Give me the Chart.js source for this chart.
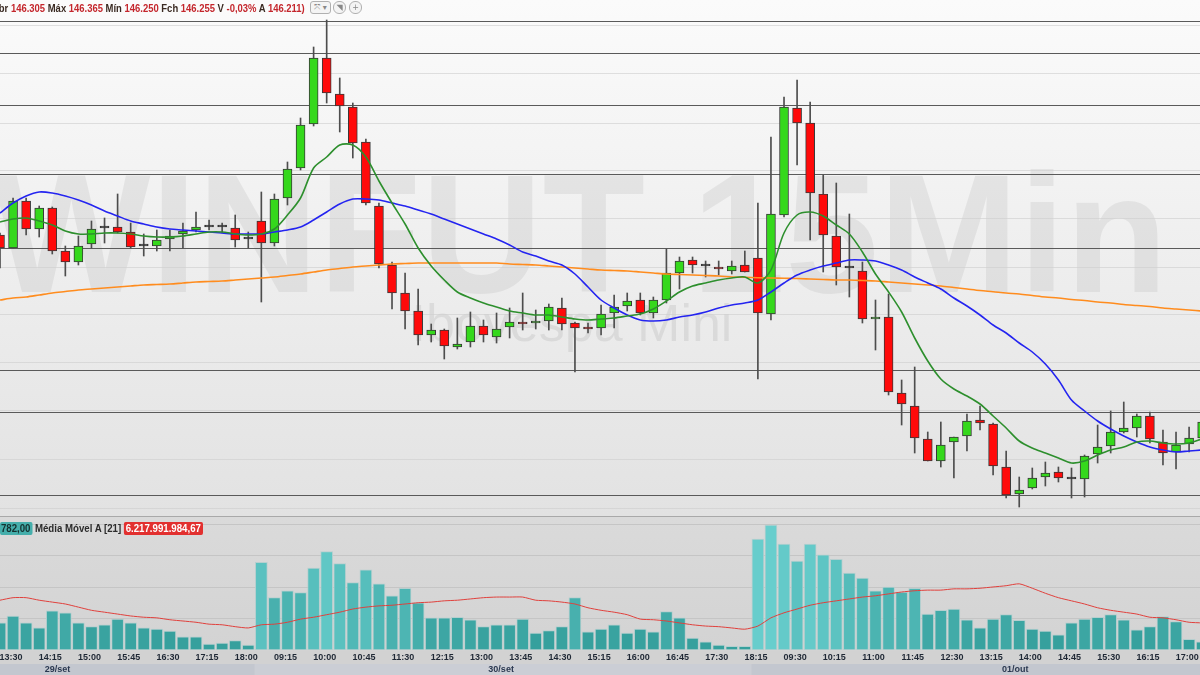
<!DOCTYPE html>
<html>
<head>
<meta charset="utf-8">
<script src="https://cdn.jsdelivr.net/npm/chart.js@4.4.0/dist/chart.umd.min.js"></script>
<style>
  html, body { margin: 0; padding: 0; width: 1200px; height: 675px; overflow: hidden; background: #e6e6e6; }
  body { position: relative; font-family: "Liberation Sans", Arial, sans-serif; }
  #pricePane { position: absolute; left: 0; top: 0; width: 1200px; height: 516px; background: linear-gradient(#fbfbfb, #e2e2e2); }
  #volPane { position: absolute; left: 0; top: 516px; width: 1200px; height: 159px; background: linear-gradient(#dadada 0, #d3d3d3 134px, #d2d2d2 134px); border-top: 1px solid #a9a9a9; box-sizing: border-box; }
  canvas { position: absolute; left: 0; }
  #price { top: 0; }
  #vol { top: 517px; }
  #hdr { position: absolute; left: -8px; top: 2px; font-size: 11px; font-weight: bold; color: #3a2a22; white-space: nowrap; transform-origin: 0 0; }
  #hdr .v { color: #c4262c; }
  .btn { position: absolute; top: 1px; height: 11px; border: 1px solid #b0b0b0; background: #f4f4f4; color: #888; font-size: 8px; line-height: 11px; text-align: center; font-family: "DejaVu Sans", sans-serif; }
  #b1 { left: 310px; width: 19px; border-radius: 3px; }
  #b2 { left: 333px; width: 11px; border-radius: 6px; }
  #b3 { left: 349px; width: 11px; border-radius: 6px; }
  #vh { position: absolute; left: 0; top: 522px; font-size: 11px; font-weight: bold; color: #2b2b2b; white-space: nowrap; transform-origin: 0 0; }
  #vh .box { display: inline-block; padding: 0 2px; border-radius: 2px; line-height: 13px; }
  #vh .t { background: #45aeab; color: #14302f; padding-left: 1px; }
  #vh .r { background: #e2302f; color: #fff; }
</style>
</head>
<body>
<div id="pricePane"></div>
<div id="volPane"></div>
<canvas id="price" width="1200" height="516"></canvas>
<canvas id="vol" width="1200" height="158"></canvas>
<div id="hdr">Abr <span class="v">146.305</span> Máx <span class="v">146.365</span> Mín <span class="v">146.250</span> Fch <span class="v">146.255</span> V <span class="v">-0,03%</span> A <span class="v">146.211)</span></div>
<div class="btn" id="b1">⤧ ▾</div>
<div class="btn" id="b2">◥</div>
<div class="btn" id="b3">+</div>
<div id="vh"><span class="box t">782,00</span> Média Móvel A [21] <span class="box r">6.217.991.984,67</span></div>
<script>
// candles, 15 min
const opens = [
  117290,117277,117324,117296,117317,117274,117263,117281,117297,117298,
  117293,117279,117279,117286,117291,117295,117298,117298,117297,117286,
  117304,117282,117327,117357,117401,117467,117431,117418,117383,117319,
  117260,117232,117214,117190,117195,117178,117183,117199,117188,117198,
  117203,117202,117204,117217,117202,117198,117197,117212,117219,117225,
  117212,117225,117252,117265,117259,117258,117254,117260,117267,117211,
  117310,117417,117402,117331,117289,117257,117254,117206,117208,117132,
  117119,117086,117064,117083,117089,117105,117101,117058,117031,117037,
  117048,117053,117046,117046,117071,117079,117093,117097,117109,117083,
  117073,117081,117087];
const highs = [
  117292,117327,117327,117319,117318,117279,117289,117304,117307,117331,
  117302,117291,117295,117295,117302,117313,117305,117302,117310,117293,
  117333,117331,117363,117407,117478,117505,117447,117422,117386,117322,
  117263,117252,117236,117201,117196,117207,117213,117205,117212,117217,
  117232,117215,117221,117227,117203,117202,117220,117230,117232,117232,
  117228,117276,117268,117268,117264,117264,117264,117274,117322,117388,
  117428,117445,117423,117350,117342,117311,117263,117225,117231,117145,
  117158,117093,117103,117088,117111,117119,117102,117074,117048,117057,
  117063,117058,117057,117070,117100,117114,117123,117111,117113,117095,
  117093,117098,117110];
const lows = [
  117257,117277,117290,117288,117271,117249,117260,117277,117282,117292,
  117277,117269,117274,117274,117277,117293,117295,117292,117278,117277,
  117223,117279,117320,117355,117399,117422,117393,117367,117320,117257,
  117216,117196,117180,117183,117166,117176,117178,117183,117182,117187,
  117195,117196,117195,117195,117153,117192,117190,117197,117214,117210,
  117207,117222,117236,117252,117248,117250,117251,117253,117146,117205,
  117308,117360,117285,117253,117240,117228,117202,117175,117130,117100,
  117072,117064,117058,117047,117074,117095,117050,117027,117018,117036,
  117039,117043,117027,117028,117062,117072,117092,117088,117082,117060,
  117056,117073,117085];
const closes = [
  117277,117324,117296,117317,117274,117263,117279,117296,117297,117293,
  117278,117279,117285,117289,117294,117298,117298,117298,117285,117286,
  117282,117326,117356,117400,117467,117432,117419,117382,117322,117261,
  117232,117214,117190,117195,117179,117181,117199,117190,117196,117203,
  117201,117204,117218,117201,117197,117196,117211,117218,117224,117212,
  117225,117252,117264,117260,117259,117256,117259,117253,117212,117311,
  117418,117402,117332,117290,117258,117257,117206,117208,117133,117121,
  117087,117064,117080,117088,117104,117102,117059,117030,117035,117047,
  117052,117047,117046,117069,117078,117093,117097,117109,117086,117072,
  117080,117087,117103];

// moving averages on price
const maFast = [
  117303,117306,117307,117304,117300,117294,117291,117291,117292,117292,
  117291,117289,117288,117288,117289,117291,117293,117293,117291,117290,
  117291,117296,117310,117327,117357,117368,117380,117380,117368,117344,
  117322,117301,117277,117259,117245,117233,117227,117222,117218,117214,
  117212,117210,117210,117208,117206,117205,117206,117207,117209,117211,
  117216,117224,117233,117239,117242,117245,117247,117248,117242,117255,
  117292,117310,117313,117309,117300,117291,117273,117251,117233,117213,
  117187,117164,117146,117136,117129,117121,117109,117097,117084,117077,
  117072,117067,117062,117064,117070,117075,117078,117083,117084,117082,
  117081,117082,117086];
const maMid = [
  117312,117322,117329,117333,117332,117329,117325,117320,117314,117309,
  117304,117301,117298,117296,117295,117294,117293,117292,117291,117291,
  117291,117293,117295,117298,117305,117313,117321,117326,117326,117325,
  117322,117319,117315,117311,117306,117301,117296,117291,117286,117280,
  117273,117269,117264,117260,117251,117238,117225,117217,117210,117205,
  117204,117205,117208,117210,117213,117217,117220,117222,117225,117233,
  117242,117250,117255,117259,117262,117265,117265,117264,117260,117255,
  117248,117242,117236,117227,117219,117210,117200,117192,117182,117173,
  117161,117145,117125,117114,117104,117096,117089,117083,117078,117075,
  117073,117074,117075];
const maSlow = [
  117225,117227,117228,117230,117232,117233.5,117235,117236,117237,117238,
  117239,117240,117240.5,117241,117242,117243,117243.5,117244,117245,117246,
  117247,117248,117249.5,117251,117253,117255,117256.5,117258,117259,117260,
  117261,117261.5,117262,117262,117262,117262,117262,117262,117262,117261,
  117260.5,117260,117259,117258,117257,117256,117255,117254.5,117254,117253,
  117252,117251,117250.5,117250,117249.5,117249,117248,117247.7,117247.3,117247,
  117246.7,117246.5,117246,117245.5,117245,117245,117244.5,117244,117243,117242,
  117241,117240,117239,117237.5,117236,117234.5,117233.3,117232,117231,117229.5,
  117228,117227,117225.5,117224.5,117223,117222,117220.5,117219.5,117218.5,117217,
  117216,117215,117214];

// volume (bilhões) and its 21-period average
const volume = [
  4.3,5.4,4.3,3.5,6.2,5.9,4.3,3.7,4.0,4.9,
  4.3,3.5,3.3,3.0,2.1,2.1,0.95,1.1,1.5,0.8,
  13.9,8.3,9.4,9.1,13.0,15.6,13.7,10.7,12.7,10.5,
  8.6,9.8,7.5,5.1,5.1,5.2,4.8,3.7,4.0,4.0,
  4.9,2.7,3.1,3.7,8.3,2.9,3.3,4.0,2.7,3.3,
  2.9,6.1,5.1,1.9,1.3,0.8,0.6,0.6,17.6,19.8,
  16.8,14.1,16.8,15.1,14.4,12.2,11.4,9.4,10.0,9.2,
  9.8,5.7,6.3,6.5,4.8,3.5,4.9,5.6,4.7,3.3,
  3.0,2.4,4.3,4.9,5.2,5.6,4.8,3.2,3.7,5.3,
  4.5,1.7,1.3];
const volMA = [
  7.9,8.3,8.3,7.9,7.6,7.3,6.8,6.3,6.0,5.7,
  5.4,5.2,5.1,4.8,4.6,4.4,4.1,4.0,3.7,3.5,
  4.0,4.1,4.4,4.9,5.2,5.6,6.0,6.5,6.8,7.0,
  7.1,7.3,7.5,7.6,7.8,7.9,8.1,8.3,8.4,8.4,
  8.4,7.9,7.8,7.6,7.3,6.7,6.3,6.0,5.6,4.9,
  4.8,4.6,4.3,4.0,3.8,3.7,3.5,3.3,3.8,5.1,
  5.9,6.5,7.1,7.5,7.8,8.1,8.4,8.6,8.9,9.2,
  9.4,9.5,9.5,9.7,9.7,9.8,10.0,10.2,10.5,9.8,
  9.0,8.3,7.8,7.3,6.7,6.3,6.0,5.7,5.2,5.1,
  4.8,4.4,4.3];

// horizontal levels
const priceGrid = [117500,117452,117402,117355,117307,117258,117211,117163,117115,117066,117017];
const levels = [117504,117472,117420,117351,117277,117155,117113,117030];
const volGrid = [5, 10, 15, 20];

// axis labels
const timeLabels = ['13:30','14:15','15:00','15:45','16:30','17:15','18:00','09:15','10:00','10:45','11:30',
  '12:15','13:00','13:45','14:30','15:15','16:00','16:45','17:30','18:15','09:30','10:15','11:00','11:45',
  '12:30','13:15','14:00','14:45','15:30','16:15','17:00'];
const dayLabels = ['29/set', '30/set', '01/out'];
const dayLabelPos = [4.4, 38.35, 77.7];
const dayBreaks = [19.5, 57.5];

const idx = opens.map((_, i) => i);
const tickIdx = timeLabels.map((_, k) => 0.85 + 3 * k);
const xMax = 1200 / 13.067;
const smallFont = '"Liberation Sans", Arial, sans-serif';

// squeeze the two legend strips to the narrow look of the original
function fitWidth(id, w) {
  const el = document.getElementById(id);
  el.style.transform = `scaleX(${w / el.offsetWidth})`;
}
fitWidth('hdr', 313);
fitWidth('vh', 203);

function candleColor(i) {
  if (opens[i] === closes[i]) return '#333';
  return closes[i] > opens[i] ? '#35d81c' : '#ff0a0a';
}

function volColor(v) {
  const t = Math.max(0, Math.min(1, (v - 3) / 15));
  const a = [54, 160, 157], b = [104, 206, 205];
  const c = a.map((x, j) => Math.round(x + (b[j] - x) * t));
  return `rgb(${c[0]},${c[1]},${c[2]})`;
}

const watermark = {
  id: 'watermark',
  beforeDraw(chart) {
    const ctx = chart.ctx;
    ctx.save();
    ctx.textAlign = 'center';
    ctx.textBaseline = 'alphabetic';
    ctx.fillStyle = 'rgba(0,0,0,0.06)';
    ctx.font = 'bold 168px "Liberation Sans", Arial, sans-serif';
    ctx.fillText('WINFUT 15Min', 580, 292);
    ctx.fillStyle = 'rgba(0,0,0,0.07)';
    ctx.font = '52px "Liberation Sans", Arial, sans-serif';
    ctx.fillText('Ibovespa Mini', 572, 341);
    ctx.restore();
  }
};

const priceLines = {
  id: 'priceLines',
  beforeDatasetsDraw(chart) {
    const ctx = chart.ctx, y = chart.scales.y, area = chart.chartArea;
    ctx.save();
    ctx.lineWidth = 1;
    ctx.strokeStyle = 'rgba(205,205,205,0.6)';
    priceGrid.forEach(p => {
      const py = Math.round(y.getPixelForValue(p)) + 0.5;
      ctx.beginPath(); ctx.moveTo(area.left, py); ctx.lineTo(area.right, py); ctx.stroke();
    });
    ctx.strokeStyle = '#5a5a5a';
    levels.forEach(p => {
      const py = Math.round(y.getPixelForValue(p)) + 0.5;
      ctx.beginPath(); ctx.moveTo(area.left, py); ctx.lineTo(area.right, py); ctx.stroke();
    });
    ctx.restore();
  }
};

const volLines = {
  id: 'volLines',
  beforeDatasetsDraw(chart) {
    const ctx = chart.ctx, y = chart.scales.y, area = chart.chartArea;
    ctx.save();
    ctx.lineWidth = 1;
    ctx.strokeStyle = '#c5c5c5';
    volGrid.forEach(v => {
      const py = Math.round(y.getPixelForValue(v)) + 0.5;
      ctx.beginPath(); ctx.moveTo(area.left, py); ctx.lineTo(area.right, py); ctx.stroke();
    });
    ctx.restore();
  }
};

const dateRow = {
  id: 'dateRow',
  afterDraw(chart) {
    const ctx = chart.ctx, x = chart.scales.x;
    const top = chart.chartArea.bottom + 14, h = chart.height - top;
    const edges = [0, ...dayBreaks.map(b => x.getPixelForValue(b)), chart.width];
    const fills = ['#c3c7cf', '#cbced5', '#c3c7cf'];
    ctx.save();
    for (let d = 0; d < 3; d++) {
      ctx.fillStyle = fills[d];
      ctx.fillRect(edges[d], top, edges[d + 1] - edges[d], h);
    }
    ctx.fillStyle = '#2a3850';
    ctx.font = 'bold 9px ' + smallFont;
    ctx.textAlign = 'center';
    ctx.textBaseline = 'middle';
    dayLabels.forEach((t, d) => ctx.fillText(t, x.getPixelForValue(dayLabelPos[d]), top + h / 2 + 0.5));
    ctx.restore();
  }
};

const lineSet = (data, color) => ({
  type: 'line',
  data: idx.map(i => ({ x: i, y: data[i] })),
  borderColor: color,
  borderWidth: 1.6,
  pointRadius: 0,
  tension: 0.3,
  order: 0
});

new Chart(document.getElementById('price'), {
  type: 'bar',
  data: {
    datasets: [
      lineSet(maFast, '#2d8f2d'),
      lineSet(maMid, '#2424f0'),
      lineSet(maSlow, '#ff8c1e'),
      {
        data: idx.map(i => ({ x: i, y: [opens[i], closes[i]] })),
        backgroundColor: idx.map(candleColor),
        borderColor: '#383838',
        borderWidth: 1,
        borderSkipped: false,
        barThickness: 9,
        minBarLength: 2,
        grouped: false,
        order: 1
      },
      {
        data: idx.map(i => ({ x: i, y: [lows[i], highs[i]] })),
        backgroundColor: '#4d4d4d',
        borderWidth: 0,
        barThickness: 1,
        grouped: false,
        order: 2
      }
    ]
  },
  options: {
    responsive: false,
    animation: false,
    layout: { padding: { top: 18, left: 0, right: 0, bottom: 0 } },
    plugins: { legend: { display: false }, tooltip: { enabled: false } },
    scales: {
      x: { type: 'linear', min: 0, max: xMax, offset: false, display: false },
      y: { min: 117009, max: 117507, display: false }
    }
  },
  plugins: [watermark, priceLines]
});

new Chart(document.getElementById('vol'), {
  type: 'bar',
  data: {
    datasets: [
      {
        type: 'line',
        data: idx.map(i => ({ x: i, y: volMA[i] })),
        borderColor: '#e0403c',
        borderWidth: 1,
        pointRadius: 0,
        tension: 0.2,
        order: 0
      },
      {
        data: idx.map(i => ({ x: i, y: volume[i] })),
        backgroundColor: volume.map(volColor),
        borderColor: 'rgba(178,206,206,0.9)',
        borderWidth: 1,
        borderSkipped: false,
        barThickness: 12,
        order: 1
      }
    ]
  },
  options: {
    responsive: false,
    animation: false,
    layout: { padding: { top: 0, left: 0, right: 0, bottom: 11 } },
    plugins: { legend: { display: false }, tooltip: { enabled: false } },
    scales: {
      x: {
        type: 'linear', min: 0, max: xMax, offset: false,
        grid: { display: false, drawTicks: false },
        border: { display: false },
        afterBuildTicks: axis => { axis.ticks = tickIdx.map(v => ({ value: v })); },
        afterFit: axis => {
          axis.height = 14;
          axis.paddingLeft = 0;
          axis.paddingRight = 0;
        },
        ticks: {
          autoSkip: false, maxRotation: 0, padding: 2,
          color: '#1f2835',
          font: { family: smallFont, size: 9, weight: 'bold' },
          callback: (v, k) => timeLabels[k]
        }
      },
      y: { min: 0, max: 21.1, display: false }
    }
  },
  plugins: [volLines, dateRow]
});
</script>
</body>
</html>
